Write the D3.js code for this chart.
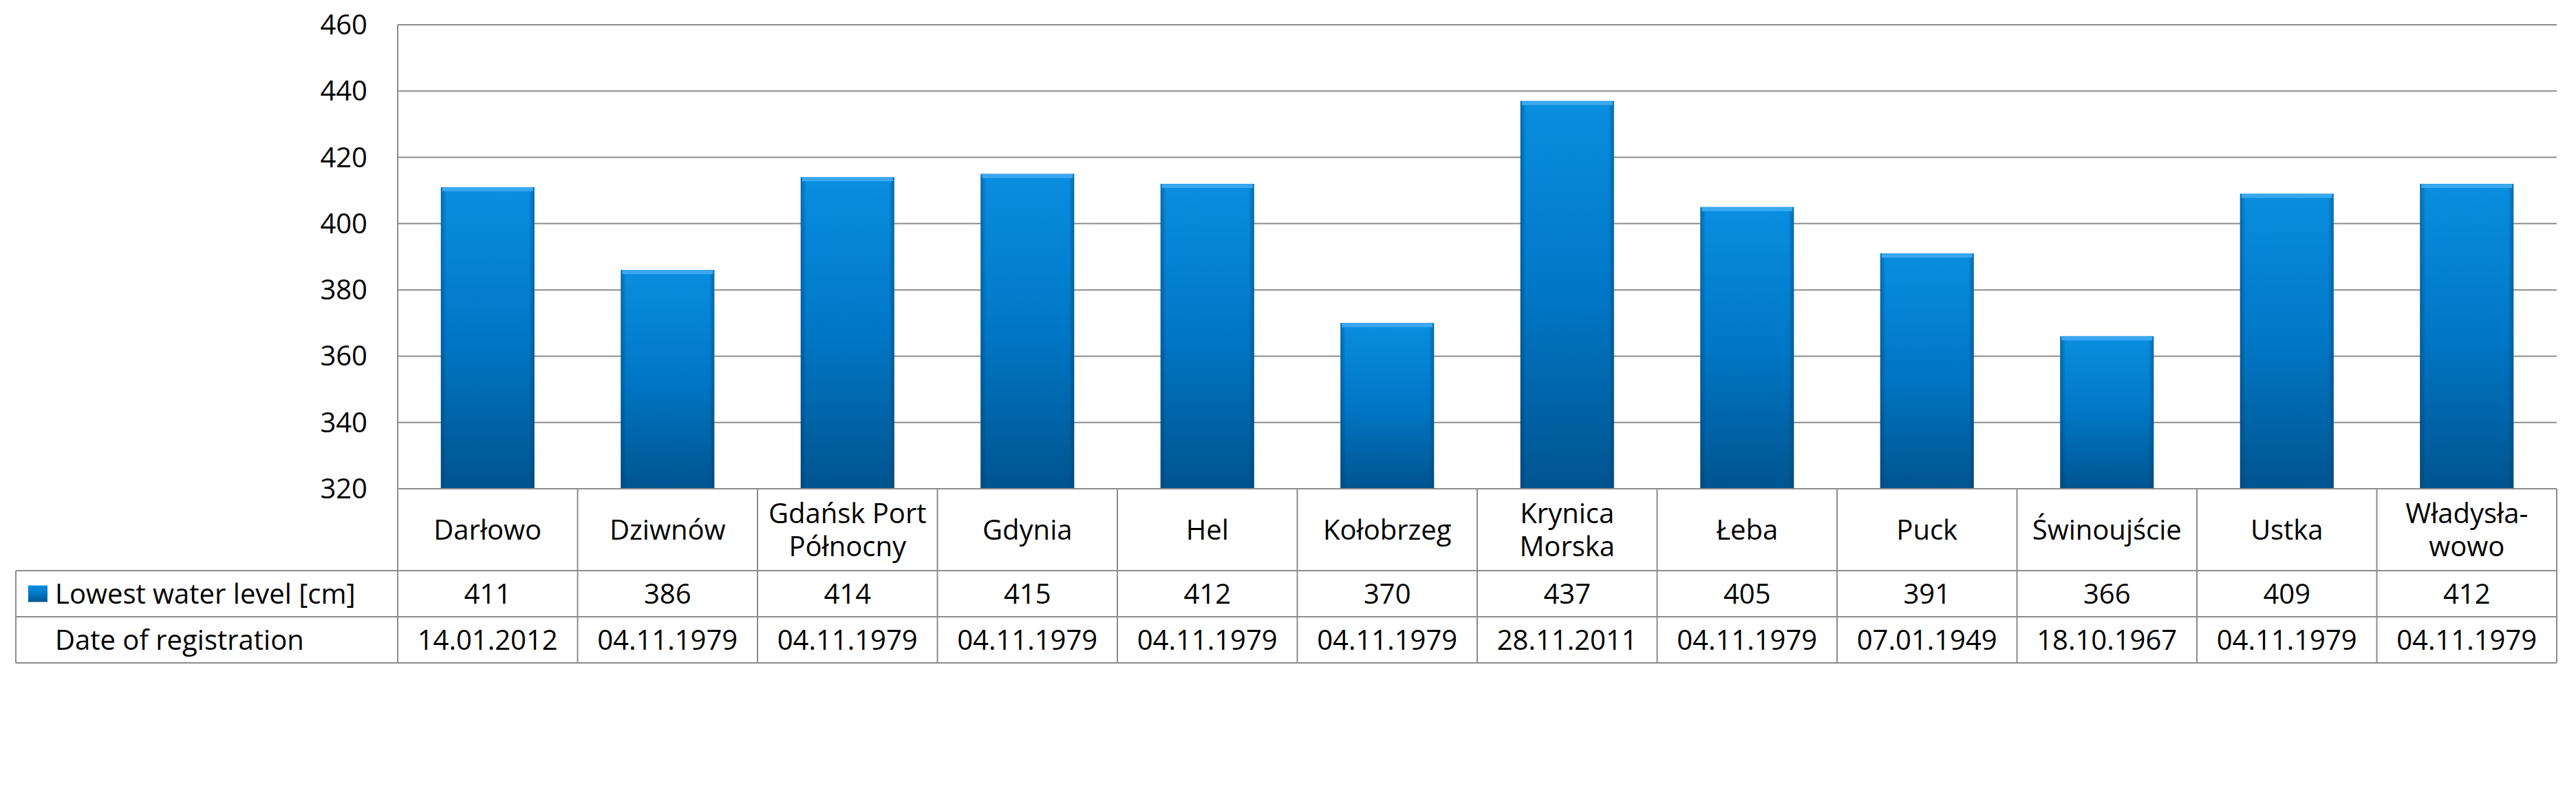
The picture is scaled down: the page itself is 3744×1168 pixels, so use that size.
<!DOCTYPE html>
<html><head><meta charset="utf-8">
<script src="https://cdn.jsdelivr.net/npm/d3@7"></script>
<style>body{margin:0;background:#fff}text{font-family:"Open Sans",sans-serif;fill:#000}</style>
</head><body>
<svg id="chart" width="3744" height="1168"></svg>
<script>
const cities = ["Darłowo", "Dziwnów", "Gdańsk Port|Północny", "Gdynia", "Hel", "Kołobrzeg", "Krynica|Morska", "Łeba", "Puck", "Świnoujście", "Ustka", "Władysła-|wowo"];
const levels = [411, 386, 414, 415, 412, 370, 437, 405, 391, 366, 409, 412];
const dates = ["14.01.2012", "04.11.1979", "04.11.1979", "04.11.1979", "04.11.1979", "04.11.1979", "28.11.2011", "04.11.1979", "07.01.1949", "18.10.1967", "04.11.1979", "04.11.1979"];
const yTicks = [320, 340, 360, 380, 400, 420, 440, 460];
const seriesName = "Lowest water level [cm]";
const rowName = "Date of registration";

const svg = d3.select("#chart");
const plotLeft = 578, plotRight = 3716, plotTop = 36, plotBottom = 710;
const row1 = 829, row2 = 896, row3 = 963, tableLeft = 23;
const grid = "#8c8c8c";

const defs = svg.append("defs");
const gv = defs.append("linearGradient").attr("id", "gv").attr("x1", 0).attr("y1", 0).attr("x2", 0).attr("y2", 1);
gv.append("stop").attr("offset", 0).attr("stop-color", "#0a8ee0");
gv.append("stop").attr("offset", 0.5).attr("stop-color", "#0077c6");
gv.append("stop").attr("offset", 1).attr("stop-color", "#00548f");
const gh = defs.append("linearGradient").attr("id", "gh").attr("x1", 0).attr("y1", 0).attr("x2", 1).attr("y2", 0);
gh.append("stop").attr("offset", 0).attr("stop-color", "#003a66").attr("stop-opacity", 0.45);
gh.append("stop").attr("offset", 0.06).attr("stop-color", "#003a66").attr("stop-opacity", 0);
gh.append("stop").attr("offset", 0.94).attr("stop-color", "#003a66").attr("stop-opacity", 0);
gh.append("stop").attr("offset", 1).attr("stop-color", "#003a66").attr("stop-opacity", 0.45);

const x = d3.scaleBand().domain(cities).range([plotLeft, plotRight]).paddingInner(0.48).paddingOuter(0.24);
const xCell = d3.scaleBand().domain(cities).range([plotLeft, plotRight]);
const y = d3.scaleLinear().domain([320, 460]).range([plotBottom, plotTop]);

// gridlines
svg.append("g").selectAll("line").data(yTicks.slice(1)).join("line")
  .attr("x1", plotLeft).attr("x2", plotRight).attr("y1", d => y(d)).attr("y2", d => y(d))
  .attr("stroke", grid).attr("stroke-width", 2);
svg.append("line").attr("x1", plotLeft).attr("x2", plotLeft).attr("y1", plotTop).attr("y2", plotBottom).attr("stroke", grid).attr("stroke-width", 2);

// y axis labels
svg.append("g").selectAll("text").data(yTicks).join("text")
  .attr("x", 534).attr("y", d => y(d)).attr("dy", "0.35em").attr("text-anchor", "end")
  .attr("font-size", 40).text(d => d);

// bars
const bars = svg.append("g").selectAll("g").data(levels).join("g");
bars.append("rect").attr("x", (d, i) => x(cities[i])).attr("y", d => y(d))
  .attr("width", x.bandwidth()).attr("height", d => plotBottom - y(d)).attr("fill", "url(#gv)");
bars.append("rect").attr("x", (d, i) => x(cities[i])).attr("y", d => y(d))
  .attr("width", x.bandwidth()).attr("height", d => plotBottom - y(d)).attr("fill", "url(#gh)");
bars.append("rect").attr("x", (d, i) => x(cities[i]) + 2).attr("y", d => y(d))
  .attr("width", x.bandwidth() - 4).attr("height", 6).attr("fill", "#3aa8f0");

// table grid
const tg = svg.append("g").attr("stroke", grid).attr("stroke-width", 2).attr("fill", "none");
tg.append("line").attr("x1", plotLeft).attr("x2", plotRight).attr("y1", plotBottom).attr("y2", plotBottom);
tg.append("line").attr("x1", tableLeft).attr("x2", plotRight).attr("y1", row1).attr("y2", row1);
tg.append("line").attr("x1", tableLeft).attr("x2", plotRight).attr("y1", row2).attr("y2", row2);
tg.append("line").attr("x1", tableLeft).attr("x2", plotRight).attr("y1", row3).attr("y2", row3);
tg.append("line").attr("x1", tableLeft).attr("x2", tableLeft).attr("y1", row1).attr("y2", row3);
tg.selectAll(".v").data(cities).join("line").attr("class", "v")
  .attr("x1", d => xCell(d)).attr("x2", d => xCell(d)).attr("y1", plotBottom).attr("y2", row3);
tg.append("line").attr("x1", plotRight).attr("x2", plotRight).attr("y1", plotBottom).attr("y2", row3);

// category labels
svg.append("g").selectAll("text").data(cities).join("text")
  .attr("text-anchor", "middle").attr("font-size", 40)
  .each(function(d) {
    const parts = d.split("|");
    const cx = xCell(d) + xCell.bandwidth() / 2;
    const my = (plotBottom + row1) / 2;
    parts.forEach((p, k) => {
      d3.select(this).append("tspan").attr("x", cx)
        .attr("y", my + (k - (parts.length - 1) / 2) * 48).attr("dy", "0.35em").text(p);
    });
  });

// values row
svg.append("g").selectAll("text").data(levels).join("text")
  .attr("x", (d, i) => xCell(cities[i]) + xCell.bandwidth() / 2).attr("y", (row1 + row2) / 2)
  .attr("dy", "0.35em").attr("text-anchor", "middle").attr("font-size", 40).text(d => d);
svg.append("g").selectAll("text").data(dates).join("text")
  .attr("x", (d, i) => xCell(cities[i]) + xCell.bandwidth() / 2).attr("y", (row2 + row3) / 2)
  .attr("dy", "0.35em").attr("text-anchor", "middle").attr("font-size", 40).text(d => d);

// row headers
svg.append("rect").attr("x", 41).attr("y", (row1 + row2) / 2 - 12).attr("width", 28).attr("height", 24).attr("fill", "url(#gv)");
svg.append("text").attr("x", 80).attr("y", (row1 + row2) / 2).attr("dy", "0.35em").attr("font-size", 40).text(seriesName);
svg.append("text").attr("x", 80).attr("y", (row2 + row3) / 2).attr("dy", "0.35em").attr("font-size", 40).text(rowName);
</script>
</body></html>
